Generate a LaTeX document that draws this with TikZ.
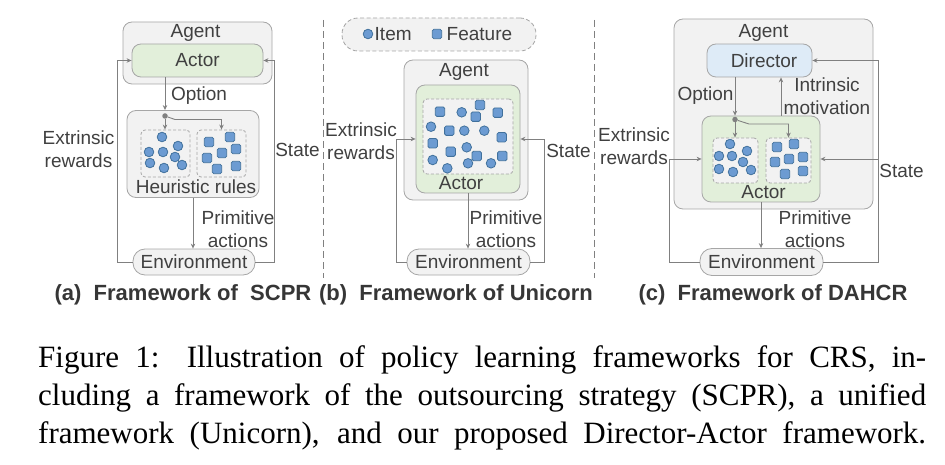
\documentclass[tikz,border=0pt]{standalone}
\usepackage{fontspec}
\setmainfont{Liberation Serif}
\setsansfont{Liberation Sans}
\usetikzlibrary{arrows.meta,calc}
\definecolor{boxgray}{HTML}{F2F2F2}
\definecolor{edgegray}{HTML}{A6A6A6}
\definecolor{arrgray}{HTML}{808080}
\definecolor{actgreen}{HTML}{E2EFDA}
\definecolor{dirblue}{HTML}{DEEBF7}
\definecolor{itemfill}{HTML}{6C9BD2}
\definecolor{itemedge}{HTML}{41719C}
\definecolor{txt}{HTML}{404040}
\newcommand\myitemc[2]{\filldraw[fill=itemfill,draw=itemedge,line width=0.8pt] (#1,#2) circle[radius=4.8pt];}
\newcommand\myitems[2]{\filldraw[fill=itemfill,draw=itemedge,line width=0.8pt,rounded corners=1.5pt] (#1-4.7,#2-4.7) rectangle (#1+4.7,#2+4.7);}
\begin{document}
\begin{tikzpicture}[x=1pt,y=-1pt,
  graybox/.style={draw=edgegray,fill=boxgray,rounded corners=9pt,line width=0.8pt,inner sep=0pt},
  greenbox/.style={graybox,fill=actgreen},
  bluebox/.style={graybox,fill=dirblue},
  pillbox/.style={graybox,rounded corners=12pt},
  dashbox/.style={draw=edgegray,fill=boxgray,dashed,dash pattern=on 3pt off 2pt,rounded corners=4pt,line width=0.8pt,inner sep=0pt},
  lbl/.style={font=\sffamily\fontsize{19}{22.5}\selectfont,text=txt,align=center,inner sep=0pt},
  capt/.style={font=\sffamily\bfseries\fontsize{22}{26}\selectfont,text=txt!85!black,inner sep=0pt},
  arr/.style={draw=arrgray,line width=0.9pt,-{Stealth[length=5pt,width=4.5pt]}},
  ln/.style={draw=arrgray,line width=0.9pt},
  sepline/.style={draw=arrgray,line width=0.8pt,dash pattern=on 7pt off 4pt},
  dotst/.style={circle,fill=arrgray,inner sep=0pt,minimum size=5.5pt}
]
\useasboundingbox (0,0) rectangle (945,465);

% separators
\draw[sepline] (323,20) -- (323,278);
\draw[sepline] (594,20) -- (594,278);

% ---------------- Panel (a)
\node[graybox,minimum width=149,minimum height=62] (agA) at (197.5,53) {};
\node[lbl] (agAt) at (195.5,33) {Agent};
\node[greenbox,minimum width=131,minimum height=33,lbl] (actA) at (197.5,60.5) {Actor};
\node[graybox,minimum width=132,minimum height=87] (heurA) at (193,154) {};
\node[lbl] (heurAt) at (196,187) {Heuristic rules};
\node[dashbox,minimum width=49,minimum height=47] (dLA) at (165.5,153.5) {};
\node[dashbox,minimum width=49,minimum height=47] (dRA) at (221.5,153.5) {};
\node[pillbox,minimum width=122,minimum height=26,lbl] (envA) at (194,262) {Environment};
\foreach \a/\b in {162/137,178/146,149/152,163/152,175/157,150/163,164/168,182/165} {\myitemc{\a}{\b}}
\foreach \a/\b in {209/142,230/137,236/149,222/153,207/158,236/166,217/169} {\myitems{\a}{\b}}
\node[dotst] (dotA) at (165,116) {};
\draw[arr] (actA.south -| dotA) -- (heurA.north -| dotA);
\draw[arr] (dotA) -- (dLA.north -| dotA);
\draw[arr] (dotA) -- (175,119.5) -- (221.5,119.5) -- (dRA.north);
\draw[arr] (heurA.south) -- (heurA.south |- envA.north);
\draw[arr] (envA.west) -| ([xshift=-14pt]actA.west) -- (actA.west);
\draw[arr] (envA.east) -| ([xshift=11pt]actA.east) -- (actA.east);
\node[lbl] (optA) at (199,96) {Option};
\node[lbl] (primA) at (238,229) {Primitive\\actions};
\node[lbl] (extA) at (78.5,149) {Extrinsic\\rewards};
\node[lbl] (stA) at (297.5,150) {State};
\node[capt] (capA) at (183,295) {(a)\ \ Framework of\ \ SCPR};

% ---------------- Panel (b)
\node[graybox,dashed,dash pattern=on 4pt off 2.5pt,rounded corners=16pt,minimum width=194,minimum height=33] (legB) at (439,34.5) {};
\myitemc{368}{34}
\node[lbl,anchor=west] (legItem) at (374.5,34) {Item};
\myitems{437}{34}
\node[lbl,anchor=west] (legFeat) at (446.5,34) {Feature};
\node[graybox,minimum width=124,minimum height=140] (agB) at (466,130) {};
\node[lbl] (agBt) at (464,72) {Agent};
\node[greenbox,minimum width=104,minimum height=108] (actB) at (468,139) {};
\node[dashbox,minimum width=90,minimum height=75] (dB) at (468,136.5) {};
\node[lbl] (actBt) at (461,183) {Actor};
\node[pillbox,minimum width=123,minimum height=26,lbl] (envB) at (468.5,262) {Environment};
\foreach \a/\b in {461.7/112.3,431/126.7,464.3/130.7,484.3/130.7,466.7/147.3,432.7/160,447.3/168.3,468/163.3,491/163.3} {\myitemc{\a}{\b}}
\foreach \a/\b in {440/111.7,480/105,475.7/116.7,497.7/112.7,449.3/130.7,501.7/137.3,432.7/143.3,450.7/151.7,476.7/156,502.3/156} {\myitems{\a}{\b}}
\draw[arr] (actB.south) -- (envB.north -| actB.south);
\draw[arr] (envB.west) -| ([xshift=-19pt]actB.west) -- (actB.west);
\draw[arr] (envB.east) -| ([xshift=24pt]actB.east) -- (actB.east);
\node[lbl] (primB) at (506,229) {Primitive\\actions};
\node[lbl] (extB) at (361,141) {Extrinsic\\rewards};
\node[lbl] (stB) at (568.5,151) {State};
\node[capt] (capB) at (456,295) {(b)\ \ Framework of Unicorn};

% ---------------- Panel (c)
\node[graybox,minimum width=199,minimum height=190] (agC) at (773.5,114) {};
\node[lbl] (agCt) at (763.5,33) {Agent};
\node[bluebox,minimum width=105,minimum height=33,lbl] (dirC) at (759.5,60.5) {\hspace*{9pt}Director};
\node[greenbox,minimum width=118,minimum height=86] (actC) at (761,159) {};
\node[lbl] (actCt) at (763.5,192) {Actor};
\node[dashbox,minimum width=45,minimum height=45] (dLC) at (735.5,160.5) {};
\node[dashbox,minimum width=45,minimum height=45] (dRC) at (788.5,160.5) {};
\node[pillbox,minimum width=123,minimum height=27,lbl] (envC) at (761.5,262) {Environment};
\foreach \a/\b in {730/144,719/156,732/156,747/151,743/162,719/169,733/172,751/170} {\myitemc{\a}{\b}}
\foreach \a/\b in {777/147,794/144,803/157,789/159,775/162,803/171,785/174} {\myitems{\a}{\b}}
\node[dotst] (dotC) at (735,119.5) {};
\coordinate (stC) at (878,262);
\coordinate (imC) at (781,0);
\draw[arr] (dirC.south -| dotC) -- (actC.north -| dotC);
\draw[arr] (dotC) -- (dLC.north -| dotC);
\draw[arr] (dotC) -- (749,124) -- (788.5,124) -- (dRC.north);
\draw[arr] (actC.north -| imC) -- (dirC.south -| imC);
\draw[arr] (actC.south) -- (envC.north -| actC.south);
\draw[arr] (envC.west) -| ([xshift=-32pt]actC.west) -- (actC.west);
\draw[arr] (envC.east) -- (stC) |- (dirC.east);
\draw[arr] (actC.east -| stC) -- (actC.east);
\node[lbl] (optC) at (705.5,96) {Option};
\node[lbl] (intC) at (827,96) {Intrinsic\\motivation};
\node[lbl] (primC) at (815,229) {Primitive\\actions};
\node[lbl] (extC) at (634,146) {Extrinsic\\rewards};
\node[lbl] (stC2) at (901.5,171) {State};
\node[capt] (capC) at (773,295) {(c)\ \ Framework of DAHCR};

% ---------------- Caption
\node[anchor=north west,inner sep=0pt,text width=888pt,align=justify,font=\fontsize{31}{38}\selectfont] (figcap) at (38,345.5)
 {Figure 1: Illustration of policy learning frameworks for CRS, in-\linebreak cluding a framework of the outsourcing strategy (SCPR), a unified\linebreak framework (Unicorn), and our proposed Director-Actor framework.\parfillskip=0pt\par};
\end{tikzpicture}
\end{document}
